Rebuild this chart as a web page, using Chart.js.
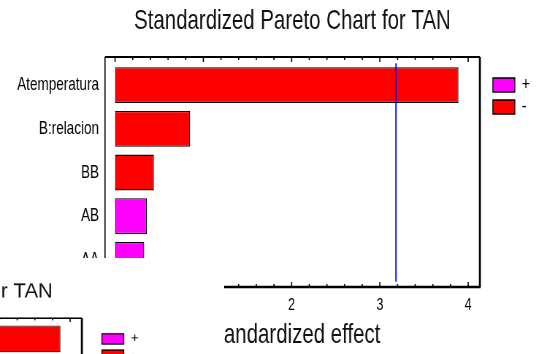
<!DOCTYPE html>
<html>
<head>
<meta charset="utf-8">
<script src="https://cdn.jsdelivr.net/npm/chart.js@4.4.1/dist/chart.umd.min.js"></script>
<style>
  html, body { margin: 0; padding: 0; background: #fff; overflow: hidden; }
  #stage { position: relative; width: 547px; height: 354px; overflow: hidden; background: #fff; }
  /* the figure is drawn wide and squeezed horizontally, giving the narrow lettering */
  #mainWrap { position: absolute; left: 0; top: 0; width: 749px; height: 354px;
              transform: scaleX(0.7303); transform-origin: 0 0; }
  #inset { position: absolute; left: 0; top: 258px; width: 224px; height: 96px; overflow: hidden; background: #fff; }
  #insetInner { position: absolute; left: -398px; top: 17.5px; width: 749px; height: 354px;
                transform: scale(0.7303, 0.74); transform-origin: 0 0; }
  canvas { display: block; }
</style>
</head>
<body>
<div id="stage">
  <div id="mainWrap"><canvas id="main" width="749" height="354"></canvas></div>
  <div id="inset"><div id="insetInner"><canvas id="copy" width="749" height="354"></canvas></div></div>
</div>
<script>
// Effects, sorted by standardized magnitude
const categories = ['Atemperatura', 'B:relacion', 'BB', 'AB', 'AA'];
const positiveEffects = [null, null, null, 0.36, 0.33];
const negativeEffects = [3.89, 0.85, 0.44, null, null];
const seriesLabels = ['+', '-'];
const criticalValue = 3.182;   // t critical value, 95% level
const xMin = -0.114;
const xMax = 4.133;

const K = 0.7303;              // horizontal squeeze applied by CSS
const FONT = "'Liberation Sans', Arial, sans-serif";

// Box frame, inward tick marks and the significance line
const frameAndTicks = {
  id: 'frameAndTicks',
  afterDatasetsDraw(chart) {
    const { ctx, chartArea: ca, scales: { x } } = chart;
    const top = ca.top - 6.3, bottom = ca.bottom + 5.3;
    const seg = (x1, y1, x2, y2, w) => {
      ctx.lineWidth = w;
      ctx.beginPath(); ctx.moveTo(x1, y1); ctx.lineTo(x2, y2); ctx.stroke();
    };
    ctx.save();
    ctx.strokeStyle = '#0000ff';
    const cx = x.getPixelForValue(criticalValue);
    seg(cx, ca.top, cx, ca.bottom, 1.3 / K);

    ctx.strokeStyle = '#000';
    seg(ca.left, top, ca.left, bottom, 1.2 / K);
    seg(ca.left, top, ca.right, top, 2);
    seg(ca.right, top, ca.right, bottom, 2 / K);
    seg(ca.left, bottom, ca.right + 1, bottom, 2.6);
    x.ticks.forEach(t => {
      const px = x.getPixelForValue(t.value);
      const major = Math.abs(t.value - Math.round(t.value)) < 1e-6;
      const len = major ? 5 : 3;
      seg(px, top, px, top + len, 1.2 / K);
      seg(px, bottom, px, bottom - len, 1.2 / K);
    });
    ctx.restore();
  }
};

// legendGap: space between the frame and the legend column
function makeConfig(legendGap, rightPad) {
  return {
    type: 'bar',
    data: {
      labels: categories,
      datasets: [
        { label: seriesLabels[0], data: positiveEffects, backgroundColor: '#ff00ff' },
        { label: seriesLabels[1], data: negativeEffects, backgroundColor: '#ff0000' }
      ]
    },
    options: {
      indexAxis: 'y',
      responsive: false,
      animation: false,
      events: [],
      datasets: {
        bar: {
          grouped: false,
          barPercentage: 0.82,
          categoryPercentage: 1,
          borderColor: '#000',
          borderWidth: 1.3,
          borderSkipped: false
        }
      },
      layout: { padding: { left: 0, right: rightPad, top: 0, bottom: 0 } },
      plugins: {
        title: {
          display: true,
          fullSize: false,
          text: 'Standardized Pareto Chart for TAN',
          color: '#111',
          font: { family: FONT, size: 28, weight: 'normal' },
          padding: { top: 4.2, bottom: 25.5 }
        },
        legend: {
          position: 'right',
          align: 'start',
          fullSize: false,
          title: { display: true, text: '', font: { size: 1, lineHeight: 1 }, padding: { top: 7.2, bottom: 1 } },
          labels: {
            boxWidth: 30,
            boxHeight: 14,
            padding: 3,
            color: '#000',
            font: { family: FONT, size: 19 }
          }
        },
        tooltip: { enabled: false }
      },
      scales: {
        y: {
          type: 'category',
          grid: { display: false, drawTicks: false },
          border: { display: false },
          ticks: { color: '#000', padding: 8.2, font: { family: FONT, size: 18.5 } },
          afterFit: s => { s.width = 105 / K; }
        },
        yGap: {
          type: 'category',
          position: 'right',
          grid: { display: false, drawTicks: false },
          border: { display: false },
          ticks: { display: false },
          afterFit: s => { s.width = legendGap; }
        },
        x: {
          type: 'linear',
          min: xMin,
          max: xMax,
          grid: { display: false, drawTicks: false },
          border: { display: false },
          afterFit: s => { s.height = 72.3; },
          ticks: {
            stepSize: 0.2,
            includeBounds: false,
            autoSkip: false,
            maxRotation: 0,
            padding: 13.5,
            color: '#000',
            font: { family: FONT, size: 17 },
            callback: v => (Math.abs(v - Math.round(v)) < 1e-6 ? String(Math.round(v)) : '')
          },
          title: {
            display: true,
            text: 'Standardized effect',
            color: '#111',
            font: { family: FONT, size: 28 },
            padding: { top: 4, bottom: 2 }
          }
        }
      }
    },
    plugins: [frameAndTicks]
  };
}

function draw() {
  new Chart(document.getElementById('main'), makeConfig(14.8, 13.5));
  new Chart(document.getElementById('copy'), makeConfig(24.4, 3.9));
}

document.fonts.load("28px 'Liberation Sans'").then(draw, draw);
</script>
</body>
</html>
